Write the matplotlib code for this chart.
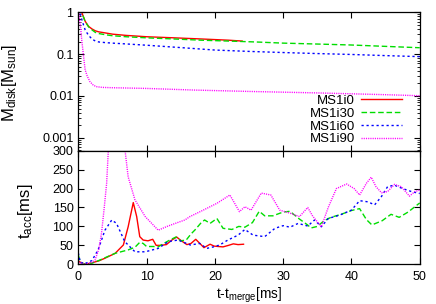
import numpy as np
import matplotlib
matplotlib.use("Agg")
import matplotlib.pyplot as plt

plt.rcParams['font.family'] = ['Liberation Sans', 'DejaVu Sans']
plt.rcParams['mathtext.default'] = 'regular'
plt.rcParams['font.size'] = 9

labels = ['MS1i0', 'MS1i30', 'MS1i60', 'MS1i90']
colors = ['#ff0000', '#00dd00', '#0000ff', '#ff00ff']
styles = ['-', (0, (4, 2)), (0, (1.6, 2)), (0, (0.8, 0.8))]

# disk mass [M_sun]
t_m0 = [0, 0.5, 1, 1.5, 2, 2.5, 3, 4, 5, 7, 10, 14, 18, 22, 24]
m0 = [1.2, 1.0, 0.61, 0.46, 0.4, 0.36, 0.34, 0.32, 0.3, 0.28, 0.26, 0.245, 0.23, 0.215, 0.205]
t_m30 = [0, 0.5, 1, 1.5, 2, 2.5, 3, 4, 5, 7, 10, 14, 18, 22, 26, 30, 35, 40, 45, 50]
m30 = [1.2, 1.0, 0.6, 0.45, 0.38, 0.33, 0.31, 0.29, 0.275, 0.26, 0.245, 0.23, 0.215, 0.205,
       0.195, 0.183, 0.174, 0.165, 0.153, 0.142]
t_m60 = [0, 0.3, 0.6, 1, 1.5, 2, 2.5, 3, 4, 5, 7, 10, 15, 20, 25, 30, 35, 40, 45, 50]
m60 = [1.2, 0.9, 0.6, 0.38, 0.28, 0.23, 0.205, 0.195, 0.188, 0.183, 0.175, 0.163, 0.143,
       0.125, 0.116, 0.109, 0.103, 0.098, 0.092, 0.087]
t_m90 = [0, 0.3, 0.5, 0.8, 1, 1.3, 1.7, 2.2, 2.7, 3.5, 5, 10, 17, 25, 35, 45, 50]
m90 = [1.2, 0.5, 0.22, 0.08, 0.042, 0.03, 0.022, 0.018, 0.0166, 0.016, 0.0157, 0.0151,
       0.0138, 0.0128, 0.0118, 0.0107, 0.0101]

# accretion timescale [ms]
t_a0 = [0, 1, 2, 3, 3.9, 5.4, 6.6, 7.3, 8.05, 8.55, 9.0, 9.5, 10.2, 10.9, 11.4, 12.0, 12.9,
        13.7, 14.4, 15.1, 15.9, 16.5, 17.2, 17.8, 18.4, 19.3, 19.9, 20.5, 21.2, 22.0, 22.7,
        23.4, 24.2]
a0 = [8, 0, 4, 9, 16, 29, 51, 99, 163, 126, 73, 64, 62, 66, 50, 50, 52, 64, 72, 62, 52, 55,
      66, 55, 44, 53, 48, 47, 46, 50, 54, 52, 53]
t_a30 = [0, 0.3, 1, 2, 3, 4, 5.4, 7.3, 8.3, 9.0, 9.5, 10.0, 11.0, 11.7, 12.5, 13.5, 14.3,
         15.0, 15.8, 16.5, 17.1, 18.0, 18.5, 19.3, 20.3, 21.2, 22.5, 23.5, 24.4, 25.5, 26.5,
         27.3, 28.5, 30.0, 31.0, 32.2, 33.5, 34.1, 35.0, 36.0, 37.0, 38.5, 40.0, 41.2, 42.2,
         43.0, 44.5, 45.8, 47.0, 48.3, 50]
a30 = [25, 5, 0, 3, 10, 18, 29, 38, 45, 58, 55, 47, 47, 46, 55, 65, 72, 62, 64, 80, 91, 110,
       117, 108, 121, 95, 92, 100, 98, 110, 140, 128, 128, 138, 140, 122, 105, 96, 100, 115,
       124, 132, 142, 147, 118, 104, 115, 132, 124, 138, 162]
t_a60 = [0, 0.3, 1, 2, 2.9, 3.9, 4.9, 5.6, 6.8, 8.3, 9.8, 11.7, 13.2, 14.6, 15.6, 16.4, 17.8,
         18.8, 19.8, 20.7, 21.9, 23.4, 24.4, 25.6, 27.3, 28.8, 30.0, 31.0, 32.2, 33.6, 34.6,
         35.6, 36.6, 38.3, 40.0, 41.2, 42.4, 43.4, 44.4, 45.3, 46.3, 47.5, 48.8, 50]
a60 = [30, 5, 2, 10, 38, 90, 117, 108, 60, 33, 33, 42, 60, 64, 57, 51, 55, 42, 46, 51, 64,
       77, 92, 77, 73, 95, 102, 98, 108, 101, 117, 99, 121, 130, 143, 168, 165, 157, 179,
       205, 209, 200, 192, 187]
t_a90 = [0, 1, 2, 2.45, 3.0, 3.4, 3.8, 4.15, 4.4, 5.0, 5.6, 6.3, 6.84, 7.3, 8.3, 9.8, 11.7,
         13.0, 14.2, 15.6, 16.35, 18.3, 20.3, 22.2, 23.6, 24.4, 25.3, 26.8, 28.2, 29.5, 31.0,
         32.4, 33.6, 34.3, 35.6, 36.6, 37.8, 39.3, 40.4, 41.2, 42.2, 42.9, 43.6, 44.4, 45.3,
         46.3, 47.3, 48.5, 49.3, 50]
a90 = [5, 0, 5, 11, 40, 82, 150, 214, 302, 400, 420, 380, 302, 231, 170, 126, 90, 100, 108,
       117, 126, 143, 161, 183, 139, 152, 143, 188, 183, 143, 135, 126, 150, 128, 99, 150,
       200, 212, 200, 183, 214, 230, 205, 189, 192, 211, 205, 180, 192, 196]

fig = plt.figure(figsize=(4.36, 3.04), dpi=100)
ax1 = fig.add_axes([0.1796, 0.5043, 0.783, 0.4553])
ax2 = fig.add_axes([0.1796, 0.1306, 0.783, 0.3737])

mass = [(t_m0, m0), (t_m30, m30), (t_m60, m60), (t_m90, m90)]
acc = [(t_a0, a0), (t_a30, a30), (t_a60, a60), (t_a90, a90)]

for (t, m), c, s, lab in zip(mass, colors, styles, labels):
    ax1.plot(t, m, color=c, linestyle=s, lw=1.0, label=lab)
for (t, a), c, s in zip(acc, colors, styles):
    ax2.plot(t, a, color=c, linestyle=s, lw=1.0)

ax1.set_yscale('log')
ax1.set_xlim(0, 50)
ax1.set_ylim(0.00049, 1)
ax1.set_yticks([0.001, 0.01, 0.1, 1])
ax1.set_yticklabels(['0.001', '0.01', '0.1', '1'])
ax1.set_xticks(range(0, 51, 10))
ax1.tick_params(labelbottom=False)

ax2.set_xlim(0, 50)
ax2.set_ylim(0, 300)
ax2.set_xticks(range(0, 51, 10))
ax2.set_yticks(range(0, 301, 50))
ax2.set_xlabel('t-t$_{merge}$[ms]', fontsize=9.8, labelpad=2)

# y labels placed like the gnuplot output
fig.text(0.022, 0.729, 'M$_{disk}$[M$_{sun}$]', rotation=90, fontsize=12,
         ha='center', va='center')
fig.text(0.058, 0.306, 't$_{acc}$[ms]', rotation=90, fontsize=12,
         ha='center', va='center')

for ax in (ax1, ax2):
    ax.tick_params(which='both', direction='in', top=True, right=True, labelsize=9)
    ax.tick_params(which='major', length=4, width=0.8)
    ax.tick_params(which='minor', length=2, width=0.6)
    for sp in ax.spines.values():
        sp.set_linewidth(0.9)
ax2.tick_params(axis='x', pad=5)

ax1.legend(loc='lower right', bbox_to_anchor=(0.968, -0.01), frameon=False,
           markerfirst=False, handlelength=3.1, handletextpad=0.5,
           labelspacing=0.05, borderpad=0, fontsize=9.5)

fig.savefig('out.png', dpi=100)
